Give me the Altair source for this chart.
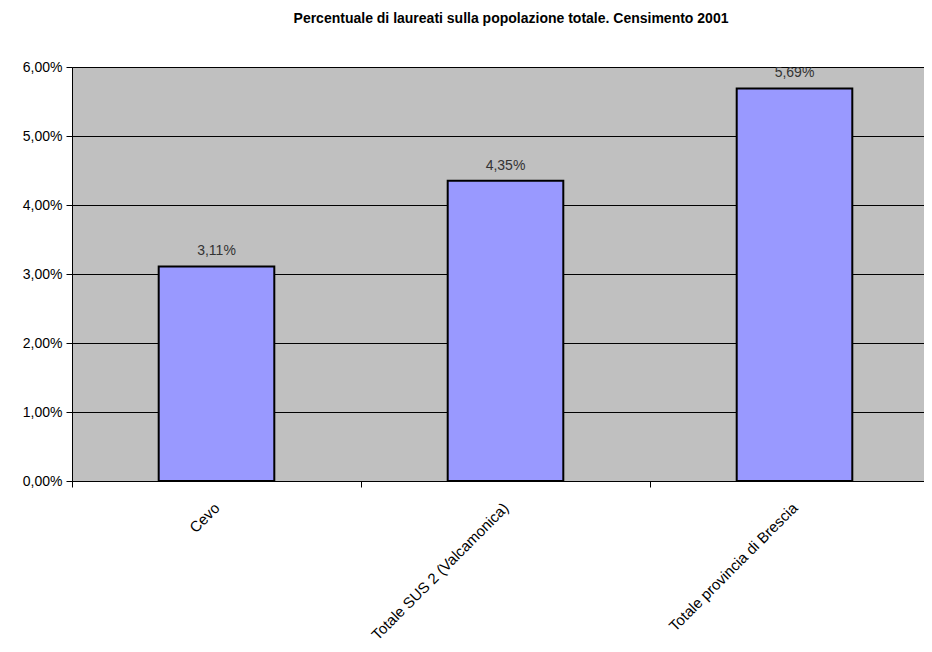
import altair as alt
import pandas as pd

categories = ["Cevo", "Totale SUS 2 (Valcamonica)", "Totale provincia di Brescia"]
values = [0.0311, 0.0435, 0.0569]
y_ticks = [0.0, 0.01, 0.02, 0.03, 0.04, 0.05, 0.06]

df = pd.DataFrame({"cat": categories, "val": values})

FONT = "Liberation Sans"

x_enc = alt.X(
    "cat:N",
    sort=categories,
    title=None,
    scale=alt.Scale(paddingInner=0, paddingOuter=0, range=[0, 867]),
    axis=alt.Axis(
        labelAngle=-45,
        labelAlign="right",
        labelBaseline="middle",
        labelFont=FONT,
        labelFontSize=15,
        labelColor="#000000",
        labelPadding=18,
        labelLimit=400,
        tickBand="extent",
        tickSize=6,
        tickColor="#000000",
        domainColor="#000000",
        domainWidth=1,
    ),
)

y_enc = alt.Y(
    "val:Q",
    title=None,
    scale=alt.Scale(domain=[0, 0.06], nice=False),
    axis=alt.Axis(
        values=y_ticks,
        labelExpr="replace(format(datum.value, '.2%'), '.', ',')",
        labelFont=FONT,
        labelFontSize=14,
        labelColor="#000000",
        labelPadding=4,
        tickSize=6,
        tickColor="#000000",
        domainColor="#000000",
        gridColor="#000000",
        gridWidth=1,
        gridOpacity=1,
    ),
)

bars = alt.Chart(df).mark_bar(
    width=alt.RelativeBandSize(0.4),
    color="#9999FF",
    stroke="#000000",
    strokeWidth=2,
).encode(x=x_enc, y=y_enc)

labels = alt.Chart(df).transform_calculate(
    lbl="replace(format(datum.val, '.2%'), '.', ',')"
).mark_text(
    dy=-8,
    baseline="bottom",
    font=FONT,
    fontSize=14,
    color="#333333",
).encode(x=alt.X("cat:N", sort=categories), y="val:Q", text="lbl:N")

chart = (
    alt.layer(bars, labels)
    .properties(
        width=852,
        height=414,
        autosize=alt.AutoSizeParams(type="none"),
        padding={"left": 64, "top": 59, "right": 0, "bottom": 162},
        title=alt.TitleParams(
            "Percentuale di laureati sulla popolazione totale. Censimento 2001",
            font=FONT,
            fontSize=14,
            fontWeight="bold",
            color="#000000",
            anchor="middle",
            dx=13,
            offset=34,
        ),
        background="#FFFFFF",
    )
    .configure_view(fill="#C0C0C0", stroke="#808080", strokeWidth=1)
)

chart.save("out.html", embed_options={"renderer": "svg", "actions": False})
